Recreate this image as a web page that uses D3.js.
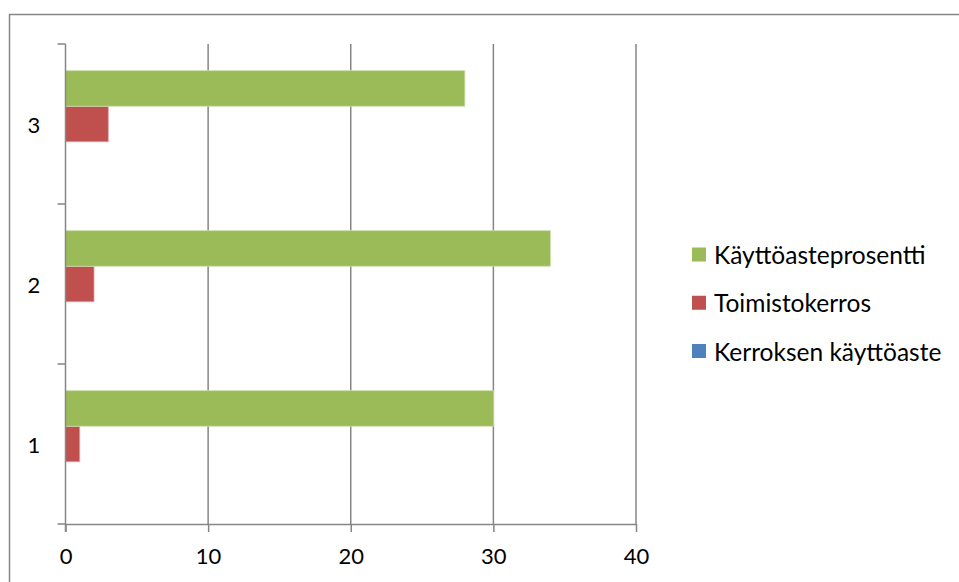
<!DOCTYPE html>
<html>
<head>
<meta charset="utf-8">
<script src="https://cdn.jsdelivr.net/npm/d3@7/dist/d3.min.js"></script>
<style>
  html, body { margin: 0; padding: 0; background: #fff; }
  svg { display: block; font-family: Lato, "Open Sans", sans-serif; }
</style>
</head>
<body>
<svg id="chart" width="959" height="582"></svg>
<script>
// Categories (floors) and series values
const categories = ["1", "2", "3"];
const seriesNames = ["Kerroksen käyttöaste", "Toimistokerros", "Käyttöasteprosentti"];
const kerroksenKayttoaste = [0, 0, 0];
const toimistokerros = [1, 2, 3];
const kayttoasteprosentti = [30, 34, 28];
const xTicks = [0, 10, 20, 30, 40];
const seriesColors = ["#4F81BD", "#C0504D", "#9BBB59"];

const seriesValues = [kerroksenKayttoaste, toimistokerros, kayttoasteprosentti];

const svg = d3.select("#chart");
const gridColor = "#868686";

// Frame of the chart area
svg.append("path")
  .attr("d", "M9.5,582 V14.5 H959")
  .attr("fill", "none")
  .attr("stroke", gridColor)
  .attr("stroke-width", 1.5);

const plot = { left: 65.5, right: 636, top: 44, bottom: 524 };

const x = d3.scaleLinear().domain([0, 40]).range([plot.left, plot.right]);
// category 1 at the bottom
const y = d3.scaleBand().domain(categories.slice().reverse()).range([plot.top, plot.bottom]).padding(0);
// within a band: top = last series, bottom = first series
const ySub = d3.scaleBand()
  .domain(seriesNames.slice().reverse())
  .range([0, y.bandwidth()])
  .paddingInner(0)
  .paddingOuter(0.75);

// Vertical gridlines
svg.append("g")
  .selectAll("line")
  .data(xTicks.filter(t => t > 0))
  .join("line")
  .attr("x1", d => x(d)).attr("x2", d => x(d))
  .attr("y1", plot.top).attr("y2", plot.bottom)
  .attr("stroke", gridColor)
  .attr("stroke-width", 1.5);

// Bars
const barData = [];
categories.forEach((c, ci) => {
  seriesNames.forEach((s, si) => {
    barData.push({ cat: c, series: s, value: seriesValues[si][ci], color: seriesColors[si] });
  });
});

svg.append("g")
  .selectAll("rect")
  .data(barData)
  .join("rect")
  .attr("x", x(0))
  .attr("y", d => y(d.cat) + ySub(d.series))
  .attr("width", d => x(d.value) - x(0))
  .attr("height", ySub.bandwidth())
  .attr("fill", d => d.color)
  .attr("stroke", d => d3.interpolateRgb(d.color, "#ffffff")(0.5))
  .attr("stroke-width", d => d.value > 0 ? 0.8 : 0);

// X axis
const xAxis = d3.axisBottom(x).tickValues(xTicks).tickSize(8).tickSizeOuter(0).tickPadding(16);
const gx = svg.append("g")
  .attr("transform", `translate(0,${plot.bottom})`)
  .call(xAxis);
gx.select(".domain").attr("stroke", gridColor).attr("stroke-width", 1.5);
gx.selectAll(".tick line").attr("stroke", gridColor).attr("stroke-width", 1.5);
gx.selectAll(".tick text").attr("font-size", 22).attr("fill", "#000")
  .attr("font-family", "Lato, 'Open Sans', sans-serif");

// Y axis: ticks at band boundaries
const yAxisLine = svg.append("g");
yAxisLine.append("line")
  .attr("x1", plot.left).attr("x2", plot.left)
  .attr("y1", plot.top).attr("y2", plot.bottom + 8)
  .attr("stroke", gridColor).attr("stroke-width", 1.5);
const boundaries = categories.map(c => y(c)).concat([plot.bottom]);
yAxisLine.selectAll("line.tick")
  .data(boundaries)
  .join("line")
  .attr("class", "tick")
  .attr("x1", plot.left - 8).attr("x2", plot.left)
  .attr("y1", d => d).attr("y2", d => d)
  .attr("stroke", gridColor).attr("stroke-width", 1.5);

svg.append("g")
  .selectAll("text")
  .data(categories)
  .join("text")
  .attr("x", 34)
  .attr("y", d => y(d) + y.bandwidth() / 2)
  .attr("text-anchor", "middle")
  .attr("dominant-baseline", "central")
  .attr("font-size", 22)
  .text(d => d);

// Legend (top to bottom: last series first)
const legendOrder = [2, 1, 0];
const legendY = d3.scalePoint().domain(legendOrder).range([254.5, 351]);
const legend = svg.append("g");
const items = legend.selectAll("g")
  .data(legendOrder)
  .join("g")
  .attr("transform", d => `translate(692,${legendY(d)})`);
items.append("rect")
  .attr("x", 0).attr("y", -7)
  .attr("width", 14).attr("height", 14)
  .attr("fill", d => seriesColors[d]);
items.append("text")
  .attr("x", 22)
  .attr("y", 0)
  .attr("dominant-baseline", "central")
  .attr("font-size", 24.5)
  .text(d => seriesNames[d]);
</script>
</body>
</html>
